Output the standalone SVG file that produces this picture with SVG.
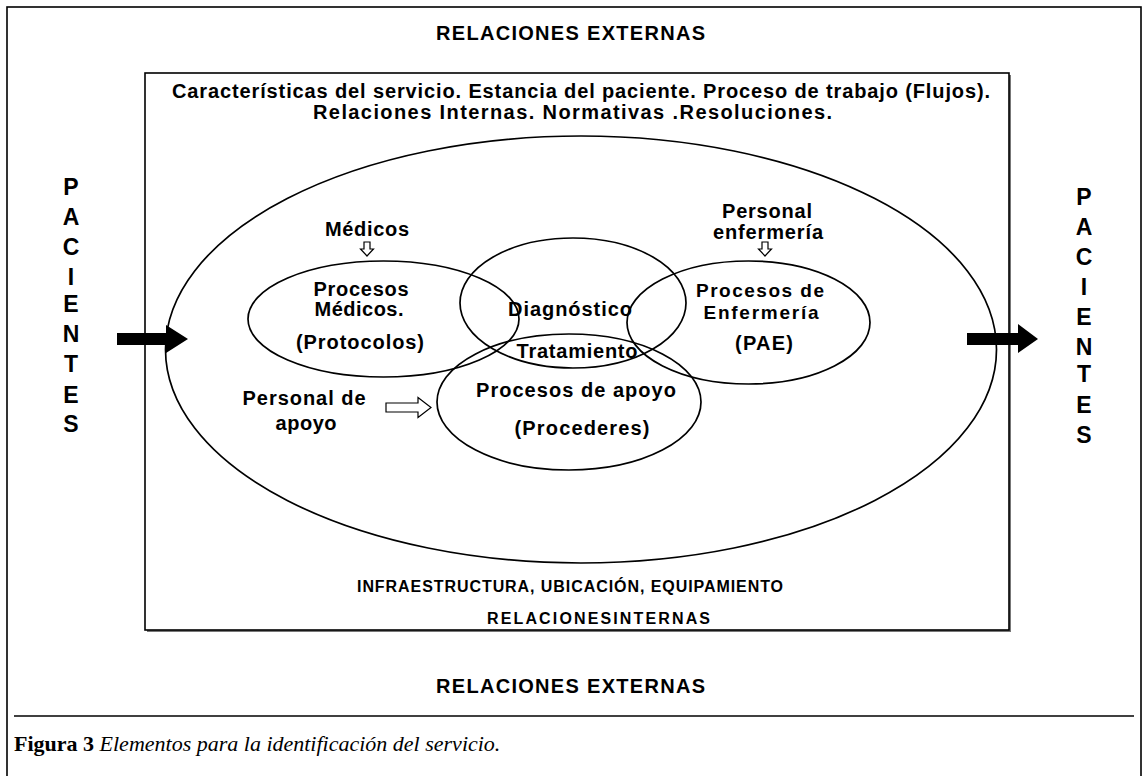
<svg xmlns="http://www.w3.org/2000/svg" width="1148" height="776" viewBox="0 0 1148 776">
<style>
.t{font-family:"Liberation Sans",Arial,sans-serif;font-weight:bold;fill:#000}
.h{font-size:20px}
.e{font-size:20px;text-anchor:middle}
.e2{font-size:19px;text-anchor:middle}
.s{font-size:16px}
.p{font-size:23px;text-anchor:middle}
.ln{fill:none;stroke:#000;stroke-width:1.7}
.cap{font-family:"Liberation Serif","Times New Roman",serif;font-size:22px;fill:#000}
</style>
<rect width="1148" height="776" fill="#fff"/>
<g id="outer-frame">
<rect x="7" y="7" width="1134" height="790" fill="none" stroke="#000" stroke-width="1.6"/>
<text class="t h" x="436" y="40" textLength="269">RELACIONES EXTERNAS</text>
<text class="t h" x="436" y="693" textLength="269">RELACIONES EXTERNAS</text>
</g>
<g id="inner-box">
<rect x="147" y="75" width="864" height="557" fill="#777"/>
<rect x="145" y="73" width="864" height="557" fill="#fff" stroke="#000" stroke-width="1.6"/>
<text class="t h" x="172" y="98" textLength="818">Características del servicio. Estancia del paciente. Proceso de trabajo (Flujos).</text>
<text class="t h" x="313" y="119" textLength="519">Relaciones Internas. Normativas .Resoluciones.</text>
<text class="t s" x="357" y="592" textLength="426">INFRAESTRUCTURA, UBICACIÓN, EQUIPAMIENTO</text>
<text class="t s" x="487" y="624" textLength="223">RELACIONESINTERNAS</text>
</g>
<g id="service-ellipse">
<ellipse class="ln" cx="581" cy="349.5" rx="415.5" ry="213.5"/>
</g>
<g id="procesos-medicos">
<ellipse class="ln" cx="383.5" cy="319" rx="135.5" ry="58"/>
<text class="t e" x="361" y="296" textLength="95">Procesos</text>
<text class="t e" x="359" y="316" textLength="89">Médicos.</text>
<text class="t e" x="360" y="349" textLength="128">(Protocolos)</text>
</g>
<g id="diagnostico">
<ellipse class="ln" cx="573" cy="303" rx="113" ry="65"/>
<text class="t e" x="570" y="316" textLength="124">Diagnóstico</text>
<text class="t e" x="577" y="358" textLength="121">Tratamiento</text>
</g>
<g id="procesos-enfermeria">
<ellipse class="ln" cx="748.5" cy="322.5" rx="121.5" ry="61.5"/>
<text class="t e2" x="760" y="297" textLength="128">Procesos de</text>
<text class="t e2" x="761" y="319" textLength="115">Enfermería</text>
<text class="t e" x="764" y="350" textLength="58">(PAE)</text>
</g>
<g id="procesos-apoyo">
<ellipse class="ln" cx="569" cy="402" rx="132" ry="68"/>
<text class="t e" x="576" y="397" textLength="200">Procesos de apoyo</text>
<text class="t e" x="582" y="435" textLength="135">(Procederes)</text>
</g>
<g id="medicos">
<text class="t e" x="367" y="236" textLength="84">Médicos</text>
</g>
<g id="personal-enfermeria">
<text class="t e" x="767" y="218" textLength="90">Personal</text>
<text class="t e" x="768" y="239" textLength="110">enfermería</text>
</g>
<g id="personal-apoyo">
<text class="t e" x="304" y="405" textLength="123">Personal de</text>
<text class="t e" x="306" y="430" textLength="61">apoyo</text>
</g>
<g id="pacientes-in">
<text class="t p" x="71" y="195">P</text>
<text class="t p" x="71" y="225">A</text>
<text class="t p" x="71" y="255">C</text>
<text class="t p" x="71" y="285">I</text>
<text class="t p" x="71" y="312">E</text>
<text class="t p" x="71" y="342">N</text>
<text class="t p" x="71" y="372">T</text>
<text class="t p" x="71" y="403">E</text>
<text class="t p" x="71" y="432">S</text>
</g>
<g id="pacientes-out">
<text class="t p" x="1084" y="205">P</text>
<text class="t p" x="1084" y="235">A</text>
<text class="t p" x="1084" y="265">C</text>
<text class="t p" x="1084" y="295">I</text>
<text class="t p" x="1084" y="325">E</text>
<text class="t p" x="1084" y="355">N</text>
<text class="t p" x="1084" y="382">T</text>
<text class="t p" x="1084" y="413">E</text>
<text class="t p" x="1084" y="443">S</text>
</g>
<g id="connectors">
<path d="M364,242 H370 V249 H373.5 L367,256 L360.5,249 H364 Z" fill="#fff" stroke="#000" stroke-width="1.2"/>
<path d="M762,242 H768 V249 H771.5 L765,256 L758.5,249 H762 Z" fill="#fff" stroke="#000" stroke-width="1.2"/>
<path d="M386,403 H418 V397.5 L431,407.5 L418,417.5 V412 H386 Z" fill="#fff" stroke="#000" stroke-width="1.2"/>
<path d="M117,333 H166 V325 L188,339 L166,353 V345 H117 Z" fill="#000"/>
<path d="M967,333 H1018 V324 L1038,339 L1018,353 V345 H967 Z" fill="#000"/>
</g>
<g id="caption">
<line x1="14" y1="716" x2="1134" y2="716" stroke="#000" stroke-width="1.3"/>
<text class="cap" x="14" y="751"><tspan font-weight="bold">Figura 3</tspan><tspan font-style="italic"> Elementos para la identificación del servicio.</tspan></text>
</g>
</svg>
